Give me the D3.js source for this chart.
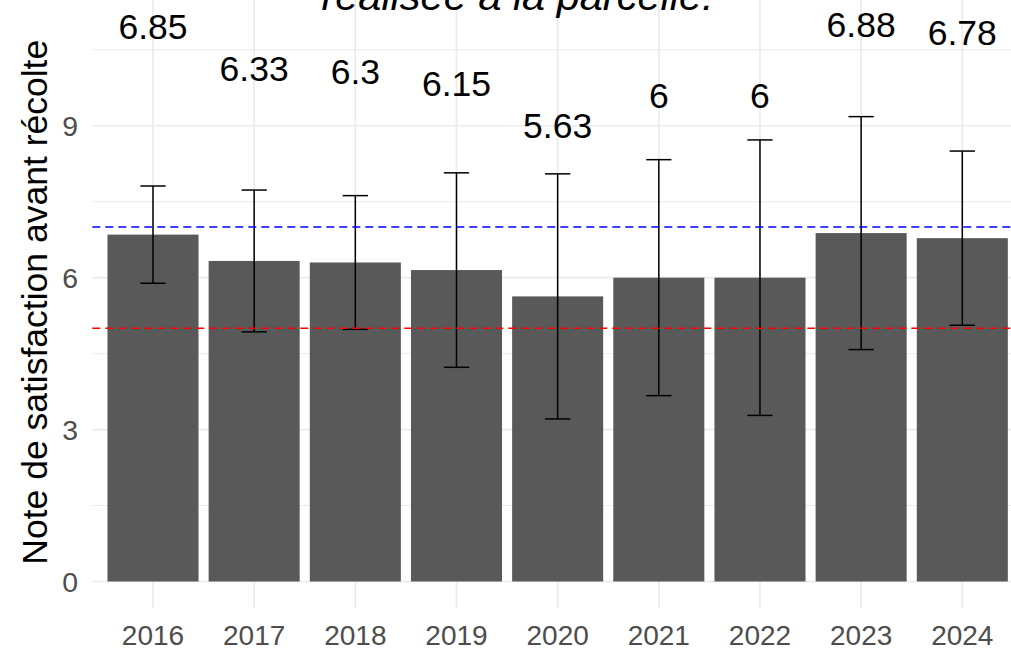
<!DOCTYPE html>
<html>
<head>
<meta charset="utf-8">
<script src="https://cdn.jsdelivr.net/npm/d3@7"></script>
<style>
html,body{margin:0;padding:0;background:#fff;}
svg{display:block;}
text{font-family:"Liberation Sans",Arial,sans-serif;}
</style>
</head>
<body>
<svg id="chart" width="1011" height="651"></svg>
<script>
// ---- data ----
const years = ["2016","2017","2018","2019","2020","2021","2022","2023","2024"];
const means = [6.85, 6.33, 6.3, 6.15, 5.63, 6, 6, 6.88, 6.78];
const sds   = [0.96, 1.40, 1.32, 1.92, 2.42, 2.33, 2.72, 2.30, 1.72];
const yTicks = [0, 3, 6, 9];
const yMinorTicks = [1.5, 4.5, 7.5, 10.5];
const refValues = [7, 5];
const refColors = ["blue", "red"];
const labelFactor = 1.6;   // labels placed at value * 1.6
const titleText = "réalisée à la parcelle.";
const yTitle = "Note de satisfaction avant récolte";

// ---- layout ----
const svg = d3.select("#chart");
const panel = {left: 92.3, right: 1023, top: -3.5, bottom: 608};

const x = d3.scaleBand().domain(years).range([panel.left, panel.right])
  .paddingInner(0.1).paddingOuter(0.15);
const y = d3.scaleLinear().domain([0, 10.5]).range([581.5, 581.5 - 10.5 * 50.64]);
const cx = d => x(d) + x.bandwidth() / 2;

// gridlines
const g = svg.append("g");
g.selectAll("line.minor").data(yMinorTicks).join("line")
  .attr("x1", panel.left).attr("x2", panel.right)
  .attr("y1", d => y(d)).attr("y2", d => y(d))
  .attr("stroke", "#ebebeb").attr("stroke-width", 1);
g.selectAll("line.major").data(yTicks).join("line")
  .attr("x1", panel.left).attr("x2", panel.right)
  .attr("y1", d => y(d)).attr("y2", d => y(d))
  .attr("stroke", "#ebebeb").attr("stroke-width", 1.7);
g.selectAll("line.vx").data(years).join("line")
  .attr("x1", d => cx(d)).attr("x2", d => cx(d))
  .attr("y1", panel.top).attr("y2", panel.bottom)
  .attr("stroke", "#ebebeb").attr("stroke-width", 1.7);

const data = years.map((yr, i) => ({yr, m: means[i], sd: sds[i]}));

// bars
svg.append("g").selectAll("rect").data(data).join("rect")
  .attr("x", d => x(d.yr)).attr("width", x.bandwidth())
  .attr("y", d => y(d.m)).attr("height", d => y(0) - y(d.m))
  .attr("fill", "#595959");

// error bars
const capW = x.step() * 0.25;
const eb = svg.append("g").attr("stroke", "#000").attr("stroke-width", 1.5).attr("fill", "none");
eb.selectAll("line.v").data(data).join("line")
  .attr("x1", d => cx(d.yr)).attr("x2", d => cx(d.yr))
  .attr("y1", d => y(d.m + d.sd)).attr("y2", d => y(d.m - d.sd));
eb.selectAll("line.t").data(data).join("line")
  .attr("x1", d => cx(d.yr) - capW / 2).attr("x2", d => cx(d.yr) + capW / 2)
  .attr("y1", d => y(d.m + d.sd)).attr("y2", d => y(d.m + d.sd));
eb.selectAll("line.b").data(data).join("line")
  .attr("x1", d => cx(d.yr) - capW / 2).attr("x2", d => cx(d.yr) + capW / 2)
  .attr("y1", d => y(d.m - d.sd)).attr("y2", d => y(d.m - d.sd));

// reference lines
svg.append("g").selectAll("line").data(refValues).join("line")
  .attr("x1", panel.left).attr("x2", panel.right)
  .attr("y1", d => y(d)).attr("y2", d => y(d))
  .attr("stroke", (d, i) => refColors[i]).attr("stroke-width", 1.5)
  .attr("stroke-dasharray", "8,5");

// value labels
svg.append("g").selectAll("text").data(data).join("text")
  .attr("x", d => cx(d.yr)).attr("y", d => y(d.m * labelFactor))
  .attr("dy", "0.36em").attr("text-anchor", "middle")
  .attr("font-size", 35.5).attr("fill", "#000")
  .text(d => String(d.m));

// y axis tick labels
svg.append("g").selectAll("text").data(yTicks).join("text")
  .attr("x", 78).attr("y", d => y(d)).attr("dy", "0.36em")
  .attr("text-anchor", "end").attr("font-size", 28.4).attr("fill", "#4d4d4d")
  .text(d => d);

// x axis tick labels
svg.append("g").selectAll("text").data(years).join("text")
  .attr("x", d => cx(d)).attr("y", 645)
  .attr("text-anchor", "middle").attr("font-size", 28).attr("fill", "#4d4d4d")
  .text(d => d);

// y axis title
svg.append("text")
  .attr("transform", "translate(47," + ((panel.top + panel.bottom) / 2) + ") rotate(-90)")
  .attr("text-anchor", "middle").attr("font-size", 35.5).attr("fill", "#000")
  .text(yTitle);

// title (cropped at top)
svg.append("text")
  .attr("x", 517.5).attr("y", 9.5)
  .attr("text-anchor", "middle").attr("font-size", 41.5)
  .attr("font-style", "italic").attr("fill", "#000")
  .text(titleText);
</script>
</body>
</html>
